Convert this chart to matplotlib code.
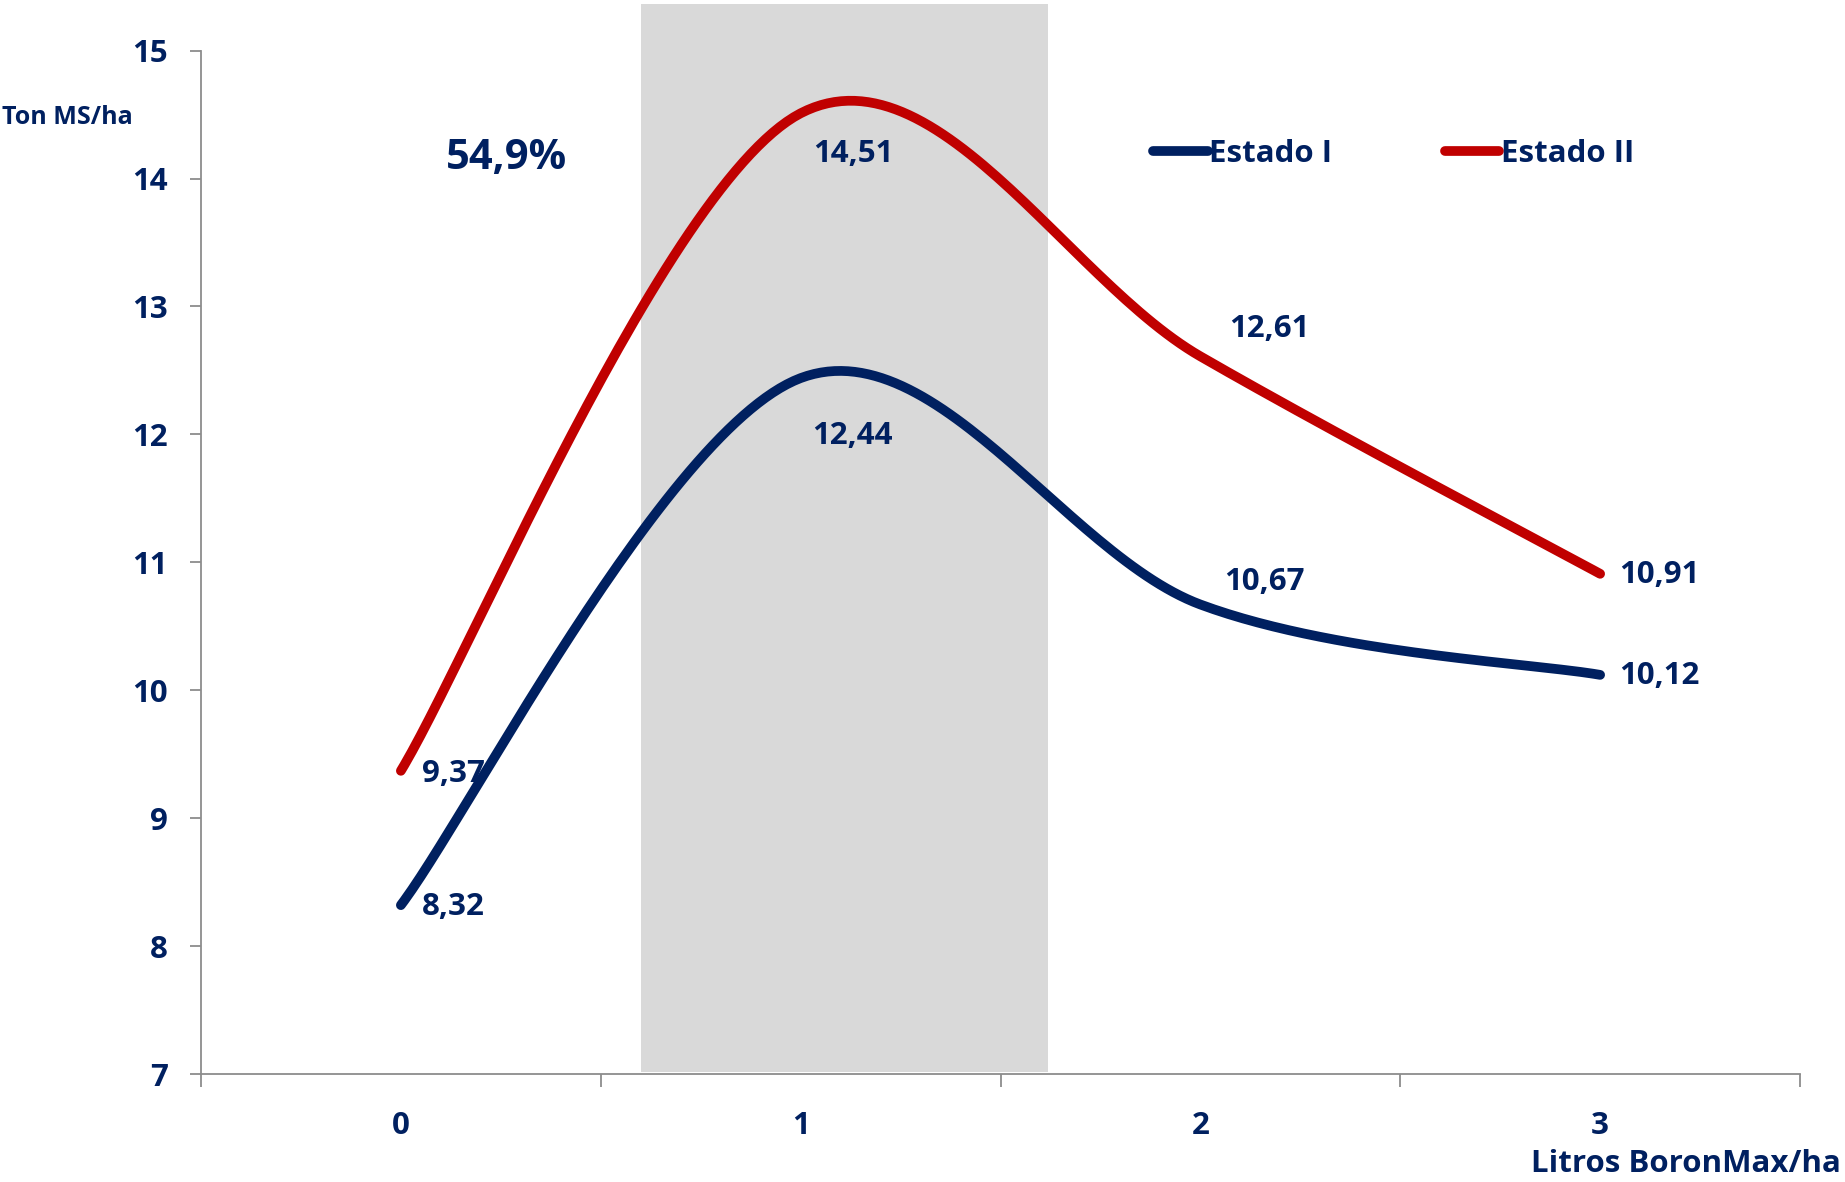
import numpy as np
import matplotlib
matplotlib.use("Agg")
import matplotlib.pyplot as plt
from matplotlib.lines import Line2D

# ---- data ----
doses = [0, 1, 2, 3]
dose_labels = ["0", "1", "2", "3"]
estado_1 = [8.32, 12.44, 10.67, 10.12]
estado_2 = [9.37, 14.51, 12.61, 10.91]
series_names = ["Estado I", "Estado II"]
y_ticks = [7, 8, 9, 10, 11, 12, 13, 14, 15]
highlight_text = "54,9%"

NAVY = "#002060"
RED = "#C00000"
GRID = "#8C8C8C"
BAND = "#D9D9D9"
FONT = ["Open Sans", "DejaVu Sans"]
FS = 22.5

plt.rcParams["font.family"] = FONT
plt.rcParams["font.weight"] = "bold"


def smooth(xs, ys, n=60):
    """Catmull-Rom style Bezier smoothing through the given points."""
    p = np.column_stack([xs, ys]).astype(float)
    ext = np.vstack([p[0], p, p[-1]])
    out = []
    t = np.linspace(0, 1, n)[:, None]
    for i in range(len(p) - 1):
        p0, p1, p2, p3 = ext[i], ext[i + 1], ext[i + 2], ext[i + 3]
        c1 = p1 + (p2 - p0) / 6.0
        c2 = p2 - (p3 - p1) / 6.0
        seg = ((1 - t) ** 3) * p1 + 3 * ((1 - t) ** 2) * t * c1 \
            + 3 * (1 - t) * t ** 2 * c2 + t ** 3 * p2
        out.append(seg if i == 0 else seg[1:])
    out = np.vstack(out)
    return out[:, 0], out[:, 1]


W, H = 1845, 1182
fig = plt.figure(figsize=(W / 100, H / 100), dpi=100)
ax = fig.add_axes([201 / W, 1 - 1074 / H, (1800 - 201) / W, (1074 - 50.6) / H])

ax.set_xlim(-0.5, 3.5)
ax.set_ylim(7, 15)

# highlighted dose band
ax.axvspan(0.6, 1.62, ymin=0.002, ymax=1.046, color=BAND, lw=0, zorder=0, clip_on=False)

lw = 7
for vals, col in [(estado_1, NAVY), (estado_2, RED)]:
    sx, sy = smooth(doses, vals)
    ax.plot(sx, sy, color=col, lw=lw, solid_capstyle="round", zorder=3)

# value labels (offsets in points)
offsets_1 = [(15, -1, "left"), (37, -42, "center"), (46, 16, "center"), (14, -1, "left")]
offsets_2 = [(15, -2, "left"), (38, -29, "center"), (50, 20, "center"), (14, -1, "left")]
for vals, offs in [(estado_1, offsets_1), (estado_2, offsets_2)]:
    for x, v, (dx, dy, ha) in zip(doses, vals, offs):
        ax.annotate(f"{v:.2f}".replace(".", ","), (x, v), xytext=(dx, dy),
                    textcoords="offset points", ha=ha, va="center",
                    fontsize=FS, fontweight="bold", color=NAVY, zorder=4)

# axes styling
for s in ["top", "right"]:
    ax.spines[s].set_visible(False)
for s in ["left", "bottom"]:
    ax.spines[s].set_color(GRID)
    ax.spines[s].set_linewidth(1.3)

ax.set_yticks(y_ticks)
ax.set_yticklabels([str(v) for v in y_ticks])
ax.tick_params(axis="y", direction="out", length=8, width=1.3, color=GRID,
               pad=16, labelsize=FS, labelcolor=NAVY)

ax.set_xticks([-0.5, 0.5, 1.5, 2.5, 3.5])
ax.set_xticklabels([])
ax.tick_params(axis="x", which="major", direction="out", length=9, width=1.3, color=GRID)
ax.set_xticks(doses, minor=True)
ax.set_xticklabels(dose_labels, minor=True)
ax.tick_params(axis="x", which="minor", length=0, pad=27, labelsize=FS, labelcolor=NAVY)
for lab in ax.get_yticklabels() + ax.get_xticklabels(minor=True):
    lab.set_fontweight("bold")

# legend
handles = [Line2D([], [], color=NAVY, lw=lw, solid_capstyle="round"),
           Line2D([], [], color=RED, lw=lw, solid_capstyle="round")]
leg = fig.legend(handles, series_names, loc="center left",
                 bbox_to_anchor=(1153 / W, 1 - 154 / H), ncol=2, frameon=False,
                 handlelength=1.75, handletextpad=0.05, columnspacing=3.6,
                 borderaxespad=0, borderpad=0,
                 prop={"family": FONT, "weight": "bold", "size": FS})
for t in leg.get_texts():
    t.set_color(NAVY)

# annotations
fig.text(2 / W, 1 - 118 / H, "Ton MS/ha", ha="left", va="center",
         fontsize=18, fontweight="bold", color=NAVY)
fig.text(507 / W, 1 - 158 / H, highlight_text, ha="center", va="center",
         fontsize=30, fontweight="bold", color=NAVY)
fig.text(1841 / W, 1 - 1164 / H, "Litros BoronMax/ha", ha="right", va="center",
         fontsize=FS, fontweight="bold", color=NAVY)

fig.savefig("out.png", dpi=100, facecolor="white")
